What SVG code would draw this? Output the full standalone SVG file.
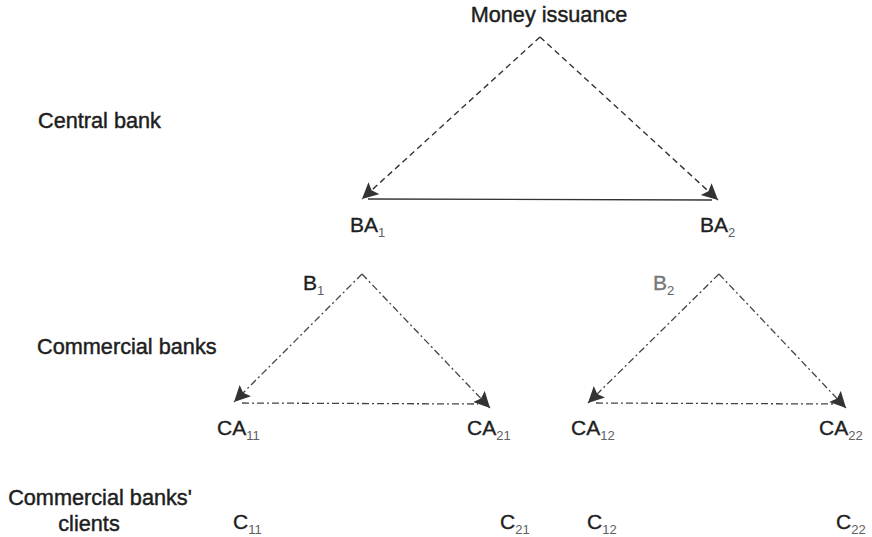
<svg xmlns="http://www.w3.org/2000/svg" width="872" height="537" viewBox="0 0 872 537">
<defs>
<style>
.lbl{font-family:"Liberation Sans",Arial,sans-serif;font-size:21.7px;fill:#1e1e1e;stroke:#1e1e1e;stroke-width:0.45}
.node{font-family:"Liberation Sans",Arial,sans-serif;font-size:21px;fill:#1e1e1e;stroke:#1e1e1e;stroke-width:0.35}
.sub{font-size:13px;fill:#606060;stroke:none}
.dash{fill:none;stroke:#333;stroke-width:1.4;stroke-dasharray:6 4}
.dd{fill:none;stroke:#444;stroke-width:1.3;stroke-dasharray:7 3 2 3}
.solid{fill:none;stroke:#333;stroke-width:1.4}
</style>
<marker id="ah" markerUnits="userSpaceOnUse" markerWidth="18" markerHeight="18" refX="16" refY="8" orient="auto">
<path d="M0,0 L16,8 L0,16 L3,8 z" fill="#333"/>
</marker>
</defs>
<rect width="872" height="537" fill="#fff"/>
<g id="levels">
<text class="lbl" x="38" y="128">Central bank</text>
<text class="lbl" x="37" y="354">Commercial banks</text>
<text class="lbl" x="100" y="505" text-anchor="middle">Commercial banks'</text>
<text class="lbl" x="89" y="531" text-anchor="middle">clients</text>
</g>
<g id="connectors">
<path class="dash" d="M540,37 L362,199" marker-end="url(#ah)"/>
<path class="dash" d="M540,37 L718,200" marker-end="url(#ah)"/>
<path class="solid" d="M368,199 L712,200"/>
<path class="dd" d="M362,274 L234,402" marker-end="url(#ah)"/>
<path class="dd" d="M362,274 L490,408" marker-end="url(#ah)"/>
<path class="dd" d="M242,403 L478,404"/>
<path class="dd" d="M719,274 L588,403" marker-end="url(#ah)"/>
<path class="dd" d="M719,274 L846,408" marker-end="url(#ah)"/>
<path class="dd" d="M596,403 L834,404"/>
</g>
<g id="money-issuance"><text class="lbl" x="549" y="22" text-anchor="middle">Money issuance</text></g>
<g id="BA1"><text class="node" x="350" y="232">BA<tspan class="sub" dy="5">1</tspan></text></g>
<g id="BA2"><text class="node" x="700" y="232">BA<tspan class="sub" dy="5">2</tspan></text></g>
<g id="B1"><text class="node" x="303" y="290">B<tspan class="sub" dy="5">1</tspan></text></g>
<g id="B2"><text class="node" x="653" y="290" style="fill:#777;stroke:#777">B<tspan class="sub" dy="5">2</tspan></text></g>
<g id="CA11"><text class="node" x="217" y="435">CA<tspan class="sub" dy="5">11</tspan></text></g>
<g id="CA21"><text class="node" x="467" y="435">CA<tspan class="sub" dy="5">21</tspan></text></g>
<g id="CA12"><text class="node" x="571" y="435">CA<tspan class="sub" dy="5">12</tspan></text></g>
<g id="CA22"><text class="node" x="819" y="435">CA<tspan class="sub" dy="5">22</tspan></text></g>
<g id="C11"><text class="node" x="233" y="529">C<tspan class="sub" dy="5">11</tspan></text></g>
<g id="C21"><text class="node" x="500" y="529">C<tspan class="sub" dy="5">21</tspan></text></g>
<g id="C12"><text class="node" x="587" y="529">C<tspan class="sub" dy="5">12</tspan></text></g>
<g id="C22"><text class="node" x="836" y="529">C<tspan class="sub" dy="5">22</tspan></text></g>
</svg>
